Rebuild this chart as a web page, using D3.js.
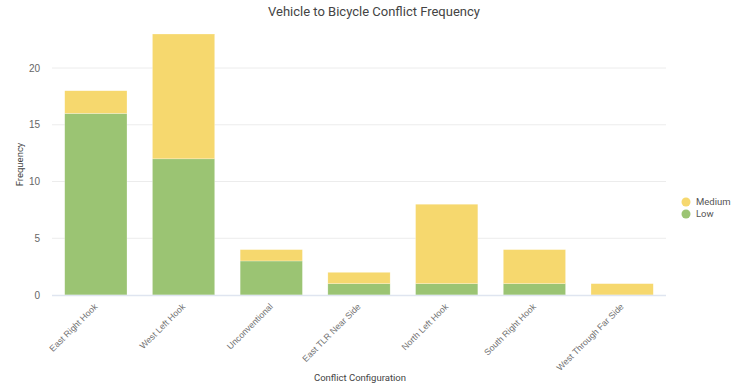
<!DOCTYPE html>
<html>
<head>
<meta charset="utf-8">
<script src="https://cdn.jsdelivr.net/npm/d3@7"></script>
<style>
  html, body { margin: 0; padding: 0; background: #fff; }
  svg { display: block; font-family: Roboto, "Noto Sans", sans-serif; }
</style>
</head>
<body>
<svg id="chart" width="738" height="387"></svg>
<script>
// Conflict configurations and counts by severity
const categories = ["East Right Hook", "West Left Hook", "Unconventional", "East TLR Near Side",
                    "North Left Hook", "South Right Hook", "West Through Far Side"];
const lowValues = [16, 12, 3, 1, 1, 1, 0];
const mediumValues = [2, 11, 1, 1, 7, 3, 1];
const yTicks = [0, 5, 10, 15, 20];
const seriesNames = ["Medium", "Low"];

const colors = { Low: "#9bc473", Medium: "#f6d86e" };

const svg = d3.select("#chart");
const margin = { top: 34, right: 72, bottom: 92, left: 52 };
const width = 738, height = 387;

const x = d3.scaleBand()
  .domain(categories)
  .range([margin.left, width - margin.right])
  .paddingInner(0.29)
  .paddingOuter(0.145);

const y = d3.scaleLinear()
  .domain([0, 23])
  .range([height - margin.bottom, margin.top]);

// Grid lines
svg.append("g")
  .selectAll("line")
  .data(yTicks.filter(d => d > 0))
  .join("line")
  .attr("x1", margin.left)
  .attr("x2", width - margin.right)
  .attr("y1", d => y(d))
  .attr("y2", d => y(d))
  .attr("stroke", "#ececec")
  .attr("stroke-width", 1);

// Stacked bars
const rows = categories.map((c, i) => ({ category: c, Low: lowValues[i], Medium: mediumValues[i] }));
const stack = d3.stack().keys(["Low", "Medium"])(rows);

svg.append("g")
  .selectAll("g")
  .data(stack)
  .join("g")
  .attr("fill", d => colors[d.key])
  .selectAll("rect")
  .data(d => d.filter(p => p[1] - p[0] > 0))
  .join("rect")
  .attr("x", d => x(d.data.category))
  .attr("width", x.bandwidth())
  .attr("y", d => y(d[1]))
  .attr("height", d => y(d[0]) - y(d[1]))
  .attr("stroke", "rgba(255,255,255,0.5)")
  .attr("stroke-width", 0.5);

// Baseline
svg.append("line")
  .attr("x1", margin.left)
  .attr("x2", width - margin.right)
  .attr("y1", y(0) + 0.5)
  .attr("y2", y(0) + 0.5)
  .attr("stroke", "#dfe5f0")
  .attr("stroke-width", 1.5);

// Y axis labels
const yAxis = d3.axisLeft(y).tickValues(yTicks).tickSize(0).tickPadding(12);
const yg = svg.append("g")
  .attr("transform", `translate(${margin.left},0)`)
  .call(yAxis);
yg.select(".domain").remove();
yg.selectAll("text").attr("fill", "#666").attr("font-size", 10);

// X axis labels
const xAxis = d3.axisBottom(x).tickSize(0).tickPadding(6);
const xg = svg.append("g")
  .attr("transform", `translate(0,${y(0)})`)
  .call(xAxis);
xg.select(".domain").remove();
xg.selectAll("text")
  .attr("fill", "#707070")
  .attr("font-size", 8.8)
  .attr("text-anchor", "end")
  .attr("dy", "0.35em")
  .attr("transform", "translate(0,10) rotate(-45)")
  .attr("x", 0)
  .attr("y", 0);

// Title
svg.append("text")
  .attr("x", 374)
  .attr("y", 16)
  .attr("text-anchor", "middle")
  .attr("fill", "#444")
  .attr("font-size", 13)
  .text("Vehicle to Bicycle Conflict Frequency");

// Axis titles
svg.append("text")
  .attr("transform", `translate(23,${(y(0) + y(23)) / 2}) rotate(-90)`)
  .attr("text-anchor", "middle")
  .attr("fill", "#444")
  .attr("font-size", 9.5)
  .text("Frequency");

svg.append("text")
  .attr("x", 360)
  .attr("y", 381)
  .attr("text-anchor", "middle")
  .attr("fill", "#444")
  .attr("font-size", 9.5)
  .text("Conflict Configuration");

// Legend
const legend = svg.append("g").attr("transform", "translate(686,202)");
seriesNames.forEach((name, i) => {
  const g = legend.append("g").attr("transform", `translate(0,${i * 12})`);
  g.append("circle").attr("r", 4.5).attr("fill", colors[name]);
  g.append("text")
    .attr("x", 10)
    .attr("dy", "0.35em")
    .attr("fill", "#555")
    .attr("font-size", 9.5)
    .text(name);
});
</script>
</body>
</html>
